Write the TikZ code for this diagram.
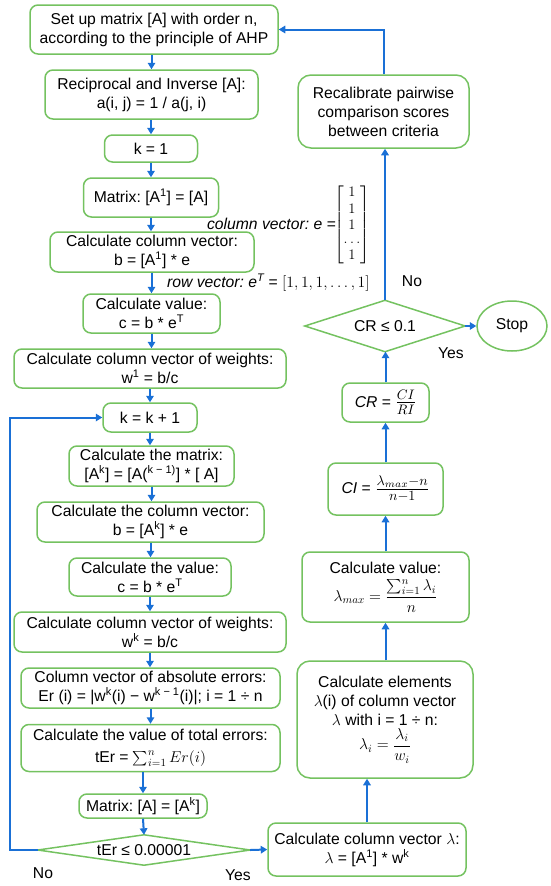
\RequirePackage{fix-cm}
\documentclass[tikz,border=0pt]{standalone}
\usepackage{amsmath}
\usepackage{graphicx}
\usepackage[no-math]{fontspec}
\setmainfont{Liberation Sans}
\usetikzlibrary{arrows.meta,shapes.geometric}
\definecolor{gr}{RGB}{116,194,96}
\definecolor{bl}{RGB}{26,112,214}
\newcommand{\fsz}{\fontsize{15.7}{19}\selectfont\frenchspacing}
\newcommand{\sps}[1]{\textsuperscript{#1}}
\tikzset{
  box/.style={draw=gr, line width=1.5pt, rounded corners=8pt, align=center, inner sep=1pt, font=\fsz},
  bigbox/.style={box, rounded corners=13pt},
  dianode/.style={inner sep=0pt, font=\fsz, align=center},
  dialine/.style={draw=gr, line width=1.5pt, line join=miter},
  arr/.style={draw=bl, line width=2pt, -{Triangle[length=6.5pt,width=7.5pt]}},
  lbl/.style={font=\fsz, inner sep=0pt}
}
\begin{document}
\begin{tikzpicture}[x=1pt,y=-1pt]
\useasboundingbox (0,0) rectangle (550,886);
% left column
\node[box, minimum width=248, minimum height=49] (set) at (154,29.5) {Set up matrix [A] with order n,\\according to the principle of AHP};
\node[box, minimum width=213, minimum height=49] (recip) at (151.5,94.5) {Reciprocal and Inverse [A]:\\a(i, j) = 1 / a(j, i)};
\node[box, minimum width=93, minimum height=27] (k1) at (151,148.5) {k = 1};
\node[box, minimum width=135, minimum height=39] (mat1) at (151,197.5) {Matrix: [A\sps{1}] = [A]};
\node[box, minimum width=204, minimum height=40] (colv) at (152,252) {Calculate column vector:\\b = [A\sps{1}] * e};
\node[box, minimum width=137, minimum height=39] (val) at (151.5,313.5) {Calculate value:\\c = b * e\sps{T}};
\node[box, minimum width=272, minimum height=39] (w1) at (150,368.5) {Calculate column vector of weights:\\w\sps{1} = b/c};
\node[box, minimum width=94, minimum height=29] (kk) at (150,417.5) {k = k + 1};
\node[box, minimum width=165, minimum height=40] (matk) at (151.5,466) {Calculate the matrix:\\{}[A\sps{k}] = [A(\sps{k − 1)}] * [ A]};
\node[box, minimum width=227, minimum height=40] (colk) at (150.5,522) {Calculate the column vector:\\b = [A\sps{k}] * e};
\node[box, minimum width=162, minimum height=38] (valk) at (150,577) {Calculate the value:\\c = b * e\sps{T}};
\node[box, minimum width=272, minimum height=40] (wk) at (150,632) {Calculate column vector of weights:\\w\sps{k} = b/c};
\node[box, minimum width=259, minimum height=40] (err) at (150.5,688) {Column vector of absolute errors:\\Er (i) = |w\sps{k}(i) − w\sps{k − 1}(i)|; i = 1 ÷ n};
\node[box, minimum width=259, minimum height=47] (tot) at (150.5,748) {Calculate the value of total errors:\\[3pt]tEr = $\sum_{i=1}^{n} Er(i)$};
\node[box, minimum width=128, minimum height=24] (mata) at (143,806) {Matrix: [A] = [A\sps{k}]};
\node[dianode, minimum width=212, minimum height=30] (dia1) at (144,850) {tEr ≤ 0.00001};
\draw[dialine] (dia1.west) -- (dia1.north) -- (dia1.east) -- (dia1.south) -- cycle;
% right column
\node[box, minimum width=198, minimum height=53] (lam) at (367,849.5) {Calculate column vector $\lambda$:\\$\lambda$ = [A\sps{1}] * w\sps{k}};
\node[bigbox, minimum width=176, minimum height=117] (elem) at (385,719.5) {Calculate elements\\$\lambda$(i) of column vector\\$\lambda$ with i = 1 ÷ n:\\[2pt]$\lambda_i = \dfrac{\lambda_i}{w_i}$};
\node[box, minimum width=167, minimum height=70] (lmax) at (385.5,587) {Calculate value:\\[5pt]$\lambda_{max} = \dfrac{\sum_{i=1}^{n}\lambda_i}{n}$};
\node[box, minimum width=115, minimum height=52] (ci) at (385.5,489) {\itshape CI\upshape\ = \scalebox{1.28}{$\frac{\lambda_{max}-n}{n-1}$}};
\node[box, minimum width=87, minimum height=39] (cr) at (385.5,402.5) {\itshape CR\upshape\ = \scalebox{1.25}{$\frac{CI}{RI}$}};
\node[dianode, minimum width=160, minimum height=51] (dia2) at (385,326) {CR ≤ 0.1};
\draw[dialine] (dia2.west) -- (dia2.north) -- (dia2.east) -- (dia2.south) -- cycle;
\node[draw=gr, line width=1.5pt, ellipse, minimum width=70, minimum height=50, inner sep=0pt, font=\fsz] (stop) at (512,326) {Stop};
\node[bigbox, minimum width=171, minimum height=73] (recal) at (383.5,111.5) {Recalibrate pairwise\\comparison scores\\between criteria};
% annotations
\node[lbl, anchor=east, font=\fsz\itshape] (cvlab) at (336,224) {column vector: e =};
\node[inner sep=0pt, font=\fontsize{14.5}{16.5}\selectfont] (emat) at (352,225) {$\begin{bmatrix}1\\1\\1\\[-3pt]\dots\\1\end{bmatrix}$};
\node[lbl, anchor=west] (rvlab) at (167,283) {\itshape row vector: e\textsuperscript{T} \upshape= $[1, 1, 1, \dots, 1]$};
\node[lbl] (no1) at (43,873) {No};
\node[lbl] (yes1) at (238,875) {Yes};
\node[lbl] (no2) at (412,281) {No};
\node[lbl] (yes2) at (451,353) {Yes};
% arrows left
\draw[arr] (set.south -| recip) -- (recip.north);
\draw[arr] (recip.south -| k1) -- (k1.north);
\draw[arr] (k1.south) -- (mat1.north);
\draw[arr] (mat1.south) -- (mat1.south |- colv.north);
\draw[arr] (colv.south -| val) -- (val.north);
\draw[arr] (val.south) -- (val.south |- w1.north);
\draw[arr] (w1.south -| kk) -- (kk.north);
\draw[arr] (kk.south) -- (kk.south |- matk.north);
\draw[arr] (matk.south) -- (matk.south |- colk.north);
\draw[arr] (colk.south) -- (colk.south |- valk.north);
\draw[arr] (valk.south) -- (valk.south |- wk.north);
\draw[arr] (wk.south) -- (wk.south |- err.north);
\draw[arr] (err.south) -- (err.south |- tot.north);
\draw[arr] (tot.south -| mata) -- (mata.north);
\draw[arr] (mata.south) -- (dia1.north);
\coordinate (lp) at (9.5,850);
\draw[arr] (dia1.west) -- (lp) |- (kk.west);
\draw[arr] (dia1.east) -- (lam.west);
% arrows right
\draw[arr] (lam.north) -- (lam.north |- elem.south);
\draw[arr] (elem.north -| lmax) -- (lmax.south);
\draw[arr] (lmax.north) -- (ci.south);
\draw[arr] (ci.north) -- (cr.south);
\draw[arr] (cr.north) -- (cr.north |- dia2.south);
\draw[arr] (dia2.east) -- (stop.west);
\draw[arr] (dia2.north) -- (dia2.north |- recal.south);
\draw[arr] (recal.north) |- (set.east);
\end{tikzpicture}
\end{document}
